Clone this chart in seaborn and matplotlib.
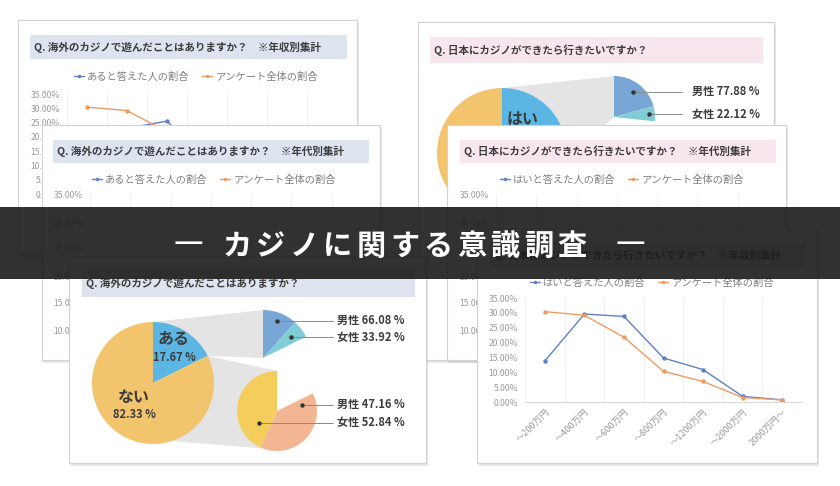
import numpy as np
import pandas as pd
import matplotlib
matplotlib.use("Agg")
import matplotlib.pyplot as plt
from matplotlib.lines import Line2D
from matplotlib.patches import Rectangle
import seaborn as sns

# ---------------- data ----------------
overseas_labels = ["ある", "ない"]
overseas_share = [17.67, 82.33]
gender_labels = ["男性", "女性"]
overseas_yes_gender = [66.08, 33.92]
overseas_no_gender = [47.16, 52.84]

japan_labels = ["はい", "いいえ"]
japan_share = [26.70, 73.30]
japan_yes_gender = [77.88, 22.12]

income_cats = ["～200万円", "～400万円", "～600万円", "～800万円",
               "～1200万円", "～2000万円", "2000万円～"]
income_all_share = [30.4, 29.2, 21.8, 10.3, 6.9, 1.5, 0.7]
japan_yes_by_income = [13.8, 29.6, 28.8, 14.8, 10.9, 1.9, 0.7]
overseas_yes_by_income = [np.nan, 23.0, 25.5, 12.0, np.nan, np.nan, np.nan]
ytick_values = [0, 5, 10, 15, 20, 25, 30, 35]

series_overseas = ["あると答えた人の割合", "アンケート全体の割合"]
series_japan = ["はいと答えた人の割合", "アンケート全体の割合"]

title_A = "Q. 海外のカジノで遊んだことはありますか？　※年収別集計"
title_B = "Q. 海外のカジノで遊んだことはありますか？　※年代別集計"
title_C = "Q. 日本にカジノができたら行きたいですか？"
title_D = "Q. 日本にカジノができたら行きたいですか？　※年代別集計"
title_E = "Q. 海外のカジノで遊んだことはありますか？"
title_F = "Q. 日本にカジノができたら行きたいですか？　※年収別集計"
banner_text = "カジノに関する意識調査"

# ---------------- style ----------------
sns.set_theme(style="white")
plt.rcParams["font.family"] = ["Noto Sans CJK JP", "DejaVu Sans"]

LINE_BLUE = "#5d81c3"
LINE_ORANGE = "#ee9b63"
BLUEBAR = "#dde3ef"
PINKBAR = "#f8e6ee"
PIE_BLUE = "#5cb6e3"
PIE_YELLOW = "#f2c46d"
MALE_BLUE = "#78a6d6"
FEMALE_TEAL = "#80cdd6"
SMALL_YELLOW = "#f5cd5c"
PEACH = "#f2b692"
BAND = "#e4e4e4"
TXT = "#3c3c3c"

W, H = 840, 486
fig = plt.figure(figsize=(8.4, 4.86), dpi=100)
fig.patch.set_facecolor("white")


def rect(x0, y0, x1, y1):
    return [x0 / W, 1 - y1 / H, (x1 - x0) / W, (y1 - y0) / H]


def Y(y):
    return H - y


LIMS = {}


def card(x0, y0, x1, y1, z):
    sh = fig.add_axes(rect(x0 + 1, y0 + 3, x1 + 2, y1 + 3), zorder=z)
    sh.set_facecolor((0, 0, 0, 0.09))
    sh.set_xticks([]); sh.set_yticks([])
    for s in sh.spines.values():
        s.set_visible(False)
    ax = fig.add_axes(rect(x0, y0, x1, y1), zorder=z + 0.1)
    ax.set_facecolor("white")
    for s in ax.spines.values():
        s.set_visible(True); s.set_color("#d2d2d2"); s.set_linewidth(0.8)
    LIMS[ax] = (x0, x1, Y(y1), Y(y0))
    return ax


def finish(ax):
    x0, x1, yb, yt = LIMS[ax]
    ax.set_aspect("auto")
    ax.set_xlim(x0, x1); ax.set_ylim(yb, yt)
    ax.set_xticks([]); ax.set_yticks([])
    ax.grid(False)


def title_bar(ax, x0, y0, x1, y1, text, color):
    ax.add_patch(Rectangle((x0, Y(y1)), x1 - x0, y1 - y0,
                           facecolor=color, edgecolor="none", zorder=1))
    ax.text(x0 + 4, Y((y0 + y1) / 2), text, fontsize=7.6, fontweight="bold",
            color=TXT, ha="left", va="center", zorder=2)


def legend_at(ax, cx, cy, names):
    handles = [Line2D([], [], color=c, lw=1, marker="o", markersize=2.5,
                      markeredgewidth=0) for c in (LINE_BLUE, LINE_ORANGE)]
    ax.legend(handles, names, loc="center", bbox_to_anchor=(cx, Y(cy)),
              bbox_transform=ax.transData, ncol=2, frameon=False,
              fontsize=7.4, labelcolor="#7f7f7f", handlelength=1.0,
              handletextpad=0.3, columnspacing=1.2, borderpad=0)


def line_chart(box, z, series, names, ylim=(0, 35), yticks=ytick_values,
               xlabels=True, base=True):
    ax = fig.add_axes(rect(*box), zorder=z)
    ax.patch.set_alpha(0)
    rows = []
    for name, vals in zip(names, series):
        for i, v in enumerate(vals):
            rows.append({"pos": i, "value": v, "series": name})
    if rows:
        df = pd.DataFrame(rows).dropna()
        sns.lineplot(data=df, x="pos", y="value", hue="series",
                     hue_order=names, palette=[LINE_BLUE, LINE_ORANGE][:len(names)],
                     marker="o", markersize=3.2, markeredgewidth=0, linewidth=1,
                     errorbar=None, legend=False, ax=ax)
    for b in np.arange(-0.5, len(income_cats), 1.0):
        ax.axvline(b, color="#ececec", lw=0.6, zorder=0)
    ax.set_xlim(-0.5, len(income_cats) - 0.5)
    ax.set_ylim(*ylim)
    ax.set_yticks(yticks)
    ax.set_yticklabels([f"{t:.2f}%" for t in yticks])
    ax.set_xticks(range(len(income_cats)))
    if xlabels:
        ax.set_xticklabels(income_cats, rotation=45, ha="right",
                           rotation_mode="anchor")
    else:
        ax.set_xticklabels([])
    ax.tick_params(axis="y", length=0, labelsize=6.2, labelcolor="#9a9a9a", pad=5)
    ax.tick_params(axis="x", length=0, labelsize=6.6, labelcolor="#9a9a9a", pad=4)
    ax.set_xlabel(""); ax.set_ylabel("")
    for s in ["top", "right", "left"]:
        ax.spines[s].set_visible(False)
    ax.spines["bottom"].set_visible(base)
    ax.spines["bottom"].set_color("#d9d9d9")
    ax.spines["bottom"].set_linewidth(0.8)
    ax.grid(False)
    return ax


def polar(center, r, ang):
    a = np.deg2rad(ang)
    return (center[0] + r * np.cos(a), center[1] + r * np.sin(a))


def pie(ax, fracs, center, radius, colors, counterclock):
    wedges, _ = ax.pie(fracs, colors=colors, startangle=90,
                       counterclock=counterclock, radius=radius, center=center,
                       normalize=False, frame=True,
                       wedgeprops=dict(linewidth=0, zorder=3))
    return wedges


def leader(ax, wedge, center, r, afrac, rfrac, text, label_x, line_end):
    ang = wedge.theta1 + afrac * (wedge.theta2 - wedge.theta1)
    px, py = polar(center, rfrac * r, ang)
    ax.plot([px, line_end], [py, py], color="#8a8a8a", lw=0.7, zorder=4)
    ax.plot([px], [py], "o", color="#333333", markersize=2.2, zorder=5)
    ax.text(label_x, py, text, fontsize=8, fontweight="bold", color=TXT,
            ha="left", va="center", zorder=5)


# ---------------- card A ----------------
axA = card(18, 20, 357, 255, 10)
title_bar(axA, 30, 35, 347, 59, title_A, BLUEBAR)
legend_at(axA, 196, 77, series_overseas)
line_chart((67, 94, 347, 194), 10.5,
           [overseas_yes_by_income, income_all_share], series_overseas)
finish(axA)

# ---------------- card C ----------------
axC = card(418, 22, 774, 360, 20)
title_bar(axC, 430, 37, 763, 63, title_C, PINKBAR)
cC_big, rC_big = (502, Y(153)), 65
cC_small, rC_small = (614, Y(117)), 41
yes_frac = japan_share[0] / 100
bigC = pie(axC, [s / 100 for s in japan_share], cC_big, rC_big,
           [PIE_BLUE, PIE_YELLOW], False)
band = [polar(cC_big, rC_big, 90), polar(cC_small, rC_small, 90), cC_small,
        polar(cC_big, rC_big, bigC[0].theta1)]
axC.fill([p[0] for p in band], [p[1] for p in band], color=BAND, lw=0, zorder=2)
smallC = pie(axC, [yes_frac * g / 100 for g in japan_yes_gender], cC_small,
             rC_small, [MALE_BLUE, FEMALE_TEAL], False)
axC.text(523, Y(119), japan_labels[0], fontsize=11.5, fontweight="bold",
         color=TXT, ha="center", va="center", zorder=6)
axC.text(523, Y(137), f"{japan_share[0]:.2f} %", fontsize=8, fontweight="bold",
         color=TXT, ha="center", va="center", zorder=6)
leader(axC, smallC[0], cC_small, rC_small, 0.5, 0.77,
       f"{gender_labels[0]} {japan_yes_gender[0]:.2f} %", 692, 682)
leader(axC, smallC[1], cC_small, rC_small, 0.5, 0.86,
       f"{gender_labels[1]} {japan_yes_gender[1]:.2f} %", 692, 682)
finish(axC)

# ---------------- card B ----------------
axB = card(42, 125, 380, 360, 30)
title_bar(axB, 53, 140, 369, 163, title_B, BLUEBAR)
legend_at(axB, 214, 180, series_overseas)
line_chart((90, 195, 372, 360), 30.5, [], [], ylim=(35 - 165 / 5.4, 35),
           yticks=ytick_values[2:], xlabels=False, base=False)
finish(axB)

# ---------------- card D ----------------
axD = card(447, 125, 786, 360, 40)
title_bar(axD, 460, 140, 776, 163, title_D, PINKBAR)
legend_at(axD, 622, 180, series_japan)
line_chart((496, 195, 778, 360), 40.5, [], [], ylim=(35 - 165 / 5.4, 35),
           yticks=ytick_values[2:], xlabels=False, base=False)
finish(axD)

# ---------------- card E ----------------
axE = card(69, 257, 426, 463, 50)
title_bar(axE, 82, 270, 415, 297, title_E, BLUEBAR)
cE_big, rE_big = (153, Y(383)), 61
cE_up, rE_up = (263, Y(358)), 48
cE_lo, rE_lo = (277, Y(411)), 40
yes_o = overseas_share[0] / 100
no_o = overseas_share[1] / 100
bigE = pie(axE, [s / 100 for s in overseas_share], cE_big, rE_big,
           [PIE_BLUE, PIE_YELLOW], False)
b_pt = polar(cE_big, rE_big, bigE[0].theta1)
band_up = [polar(cE_big, rE_big, 90), polar(cE_up, rE_up, 90), cE_up, b_pt]
band_lo = [b_pt, polar(cE_lo, rE_lo, 90), polar(cE_lo, rE_lo, -110),
           polar(cE_big, rE_big, -72)]
for bd in (band_up, band_lo):
    axE.fill([p[0] for p in bd], [p[1] for p in bd], color=BAND, lw=0, zorder=2)
upE = pie(axE, [yes_o * g / 100 for g in overseas_yes_gender], cE_up, rE_up,
          [MALE_BLUE, FEMALE_TEAL], False)
loE = pie(axE, [no_o * overseas_no_gender[1] / 100, no_o * overseas_no_gender[0] / 100],
          cE_lo, rE_lo, [SMALL_YELLOW, PEACH], True)
axE.text(174, Y(339), overseas_labels[0], fontsize=11.5, fontweight="bold",
         color=TXT, ha="center", va="center", zorder=6)
axE.text(174, Y(357), f"{overseas_share[0]:.2f} %", fontsize=8,
         fontweight="bold", color=TXT, ha="center", va="center", zorder=6)
axE.text(134, Y(397), overseas_labels[1], fontsize=11.5, fontweight="bold",
         color=TXT, ha="center", va="center", zorder=6)
axE.text(134, Y(414), f"{overseas_share[1]:.2f} %", fontsize=8,
         fontweight="bold", color=TXT, ha="center", va="center", zorder=6)
leader(axE, upE[0], cE_up, rE_up, 0.5, 0.83,
       f"{gender_labels[0]} {overseas_yes_gender[0]:.2f} %", 337, 333)
leader(axE, upE[1], cE_up, rE_up, 0.5, 0.72,
       f"{gender_labels[1]} {overseas_yes_gender[1]:.2f} %", 337, 333)
leader(axE, loE[1], cE_lo, rE_lo, 0.91, 0.64,
       f"{gender_labels[0]} {overseas_no_gender[0]:.2f} %", 337, 333)
leader(axE, loE[0], cE_lo, rE_lo, 0.79, 0.54,
       f"{gender_labels[1]} {overseas_no_gender[1]:.2f} %", 337, 333)
finish(axE)

# ---------------- card F ----------------
axF = card(477, 228, 817, 463, 60)
title_bar(axF, 490, 243, 806, 267, title_F, PINKBAR)
legend_at(axF, 652, 283, series_japan)
line_chart((525, 298, 802, 402), 60.5,
           [japan_yes_by_income, income_all_share], series_japan)
finish(axF)

# ---------------- banner ----------------
bax = fig.add_axes(rect(0, 207, 840, 279), zorder=100)
bax.set_facecolor((0.11, 0.11, 0.11, 0.91))
bax.set_xticks([]); bax.set_yticks([])
for s in bax.spines.values():
    s.set_visible(False)
bax.set_xlim(0, W); bax.set_ylim(Y(279), Y(207))
bax.text(188, Y(244), "—", fontsize=24, color="white", ha="center", va="center")
bax.text(630, Y(244), "—", fontsize=24, color="white", ha="center", va="center")
for i, ch in enumerate(banner_text):
    bax.text(237 + 33.5 * i, Y(246), ch, fontsize=21, fontweight="bold",
             color="white", ha="center", va="center")

fig.savefig("out.png", dpi=100, facecolor="white")
